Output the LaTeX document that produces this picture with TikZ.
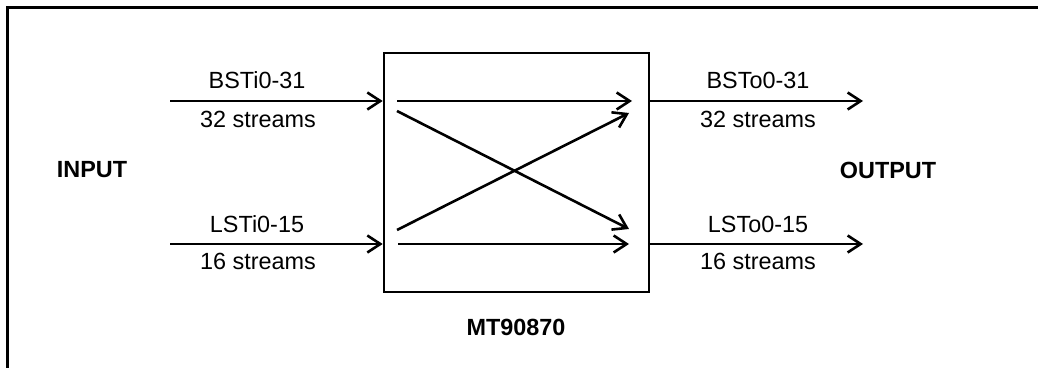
\documentclass[tikz,border=0pt]{standalone}
\usepackage{fontspec}
\setmainfont{Liberation Sans}
\usetikzlibrary{arrows.meta}
\begin{document}
\begin{tikzpicture}[x=0.5pt,y=-0.5pt,
  line width=1.3pt,
  sig/.style={-{Straight Barb[length=6.5pt,width=8.5pt,line width=1.3pt]}},
  lbl/.style={font=\fontsize{11.7pt}{14pt}\selectfont, inner sep=0pt},
  blbl/.style={font=\fontsize{11.7pt}{14pt}\selectfont\bfseries, inner sep=0pt}]
\useasboundingbox (0,0) rectangle (1038,368);
% frame (cropped)
\draw (7.5,368) -- (7.5,7.5) -- (1038,7.5);
% chip
\node[draw, minimum width=132.5pt, minimum height=119.5pt, inner sep=0pt] (chip) at (516.5,172.5) {};
% coordinates
\coordinate (bin) at (170,101);
\coordinate (lin) at (170,244);
\coordinate (bout) at (863,101);
\coordinate (lout) at (863,244);
\coordinate (ia1) at (397,101);
\coordinate (ia2) at (632,101);
\coordinate (ib1) at (397,111);
\coordinate (ib2) at (629,229);
\coordinate (ic1) at (397,230);
\coordinate (ic2) at (629,113);
\coordinate (id1) at (398,244);
\coordinate (id2) at (629,244);
% input / output
\draw[sig] (bin) -- (chip.west |- bin);
\draw[sig] (lin) -- (chip.west |- lin);
\draw[sig] (chip.east |- bout) -- (bout);
\draw[sig] (chip.east |- lout) -- (lout);
% inner
\draw[sig] (ia1) -- (ia2);
\draw[sig] (ib1) -- (ib2);
\draw[sig] (ic1) -- (ic2);
\draw[sig] (id1) -- (id2);
% labels
\node[lbl] (t1) at (257,80) {BSTi0-31};
\node[lbl] (t2) at (258,119) {32 streams};
\node[lbl] (t3) at (257,224) {LSTi0-15};
\node[lbl] (t4) at (258,261) {16 streams};
\node[lbl] (t5) at (758,80) {BSTo0-31};
\node[lbl] (t6) at (758,119) {32 streams};
\node[lbl] (t7) at (758,224) {LSTo0-15};
\node[lbl] (t8) at (758,261) {16 streams};
\node[blbl] (in) at (92,170) {INPUT};
\node[blbl] (out) at (888,170) {OUTPUT};
\node[blbl] (name) at (516,327) {MT90870};
\end{tikzpicture}
\end{document}
